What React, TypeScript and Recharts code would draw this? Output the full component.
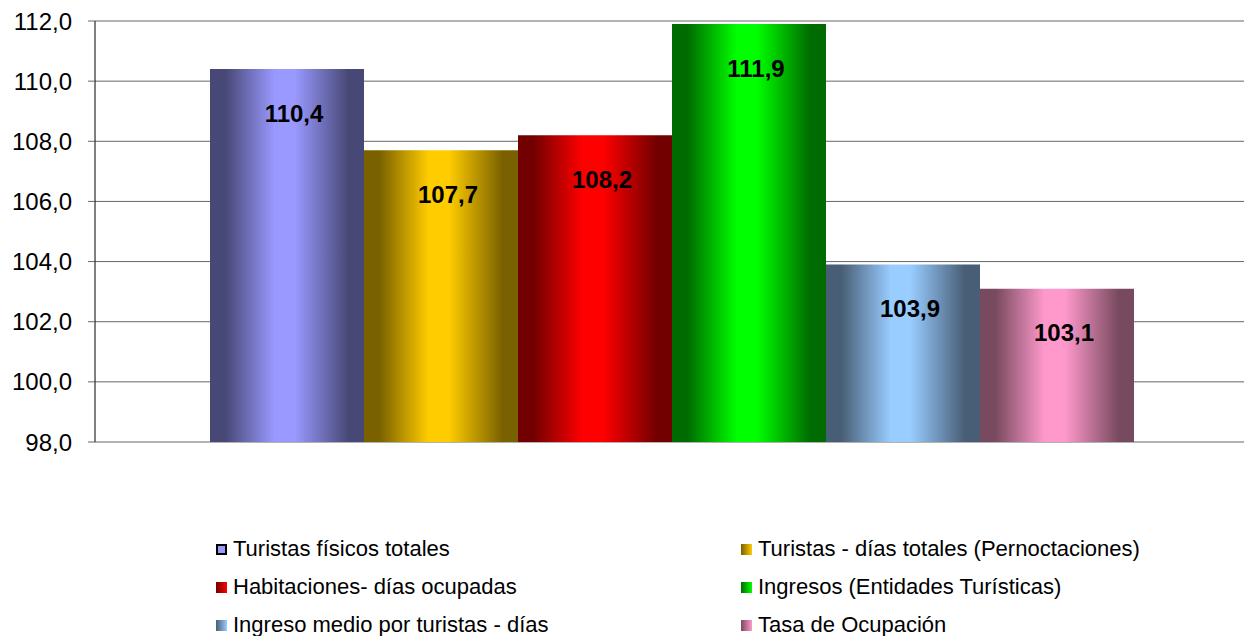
import { BarChart, Bar, XAxis, YAxis, CartesianGrid, LabelList } from "recharts";

const category = ["Indicadores"];

const seriesNames = [
  "Turistas físicos totales",
  "Turistas - días totales (Pernoctaciones)",
  "Habitaciones- días ocupadas",
  "Ingresos (Entidades Turísticas)",
  "Ingreso medio por turistas - días",
  "Tasa de Ocupación",
];

const seriesValues = [110.4, 107.7, 108.2, 111.9, 103.9, 103.1];

const yTicks = [98, 100, 102, 104, 106, 108, 110, 112];

// light (centre) and dark (edge) shade of each bar
const lightColors = ["#9999ff", "#ffcc00", "#ff0000", "#00ff00", "#99ccff", "#ff99cc"];
const darkColors = ["#484876", "#7a6100", "#720000", "#006b00", "#485e76", "#784a5f"];

const keys = seriesNames.map((_, i) => `s${i}`);

const data = category.map((name) => {
  const row: Record<string, string | number> = { name };
  keys.forEach((k, i) => {
    row[k] = seriesValues[i];
  });
  return row;
});

const fmt = (v: number) => v.toFixed(1).replace(".", ",");

const font = "'Liberation Sans', Arial, sans-serif";

function ValueLabel(props: any) {
  const { x, y, width, value } = props;
  return (
    <text
      x={Number(x) + Number(width) / 2 + 7}
      y={Number(y) + 44}
      textAnchor="middle"
      dominantBaseline="central"
      fontFamily={font}
      fontSize={24}
      fontWeight="bold"
      fill="#000"
    >
      {fmt(Number(value))}
    </text>
  );
}

export default function App() {
  return (
    <div style={{ position: "relative", width: 1244, height: 636, overflow: "hidden", background: "#fff" }}>
      <style>{`body{margin:0}`}</style>
      <BarChart
        width={1250}
        height={636}
        data={data}
        margin={{ top: 21, right: 0, left: 0, bottom: 194 }}
        barCategoryGap={115}
        barGap={0}
      >
        <defs>
          {keys.map((k, i) => (
            <linearGradient key={k} id={`grad-${k}`} x1="0" y1="0" x2="1" y2="0">
              <stop offset="0%" stopColor={darkColors[i]} />
              <stop offset="10%" stopColor={darkColors[i]} />
              <stop offset="42%" stopColor={lightColors[i]} />
              <stop offset="55%" stopColor={lightColors[i]} />
              <stop offset="90%" stopColor={darkColors[i]} />
              <stop offset="100%" stopColor={darkColors[i]} />
            </linearGradient>
          ))}
        </defs>
        <CartesianGrid vertical={false} stroke="#666" strokeWidth={1} />
        <XAxis dataKey="name" hide />
        <YAxis
          width={95}
          domain={[98, 112]}
          ticks={yTicks}
          interval={0}
          tickFormatter={fmt}
          tick={{ fontFamily: font, fontSize: 24, fill: "#000" }}
          tickLine={{ stroke: "#666" }}
          tickSize={7}
          tickMargin={16}
          axisLine={{ stroke: "#000" }}
          allowDataOverflow
        />
        {keys.map((k, i) => (
          <Bar
            key={k}
            dataKey={k}
            name={seriesNames[i]}
            fill={`url(#grad-${k})`}
            isAnimationActive={false}
          >
            <LabelList dataKey={k} content={ValueLabel} />
          </Bar>
        ))}
      </BarChart>
      <div
        style={{
          position: "absolute",
          left: 216,
          top: 530,
          display: "grid",
          gridTemplateColumns: "525px auto",
          gridAutoRows: "38px",
          fontFamily: font,
          fontSize: 22,
          color: "#000",
        }}
      >
        {seriesNames.map((n, i) => (
          <div key={n} style={{ display: "flex", alignItems: "center", whiteSpace: "nowrap" }}>
            <span
              style={{
                display: "inline-block",
                boxSizing: "border-box",
                width: 11,
                height: 11,
                marginRight: 6,
                background:
                  i === 0
                    ? lightColors[0]
                    : `linear-gradient(to right, ${darkColors[i]}, ${lightColors[i]})`,
                border: i === 0 ? "2px solid #000" : "none",
              }}
            />
            {n}
          </div>
        ))}
      </div>
    </div>
  );
}
